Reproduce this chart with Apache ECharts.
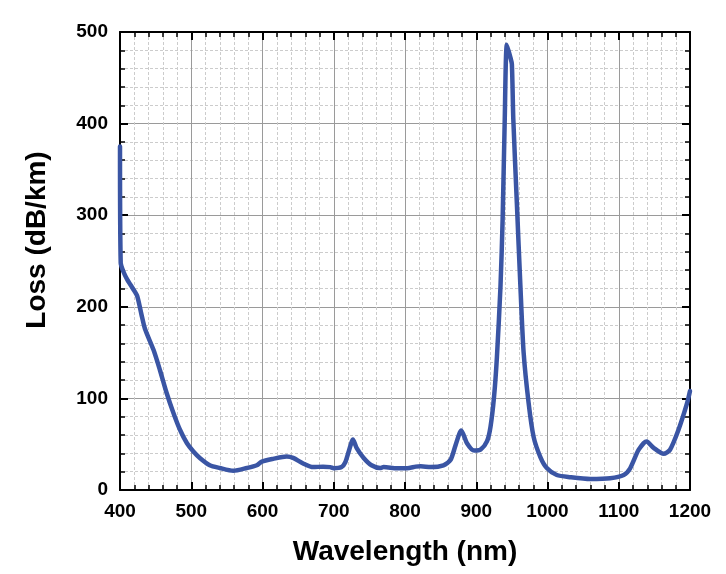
<!DOCTYPE html>
<html>
<head>
<meta charset="utf-8">
<script src="https://cdn.jsdelivr.net/npm/echarts@6/dist/echarts.min.js"></script>
<style>html,body{margin:0;padding:0;background:#fff}#c{width:726px;height:574px}</style>
</head>
<body>
<div id="c"></div>
<script>
const wavelength = [400,401,405,410,418,424,430,435,447,456,465,475,484,494,503,512,526,540,559,578,592,599,615,634,643,657,671,685,695,700,711,716,721,727,732,742,753,765,770,789,803,815,822,836,854,864,871,879,887,897,906,915,920,925,929,934,937,940,943,948,950,952,957,962,966.5,973.5,980.5,990,999,1013,1032,1060,1088,1107,1116,1128,1139,1149,1163,1172,1184,1196,1200];
const loss = [375,248,238,230,220,212,192,176,153,131,107,84,66,51,42,35,27,24,21,24,27,31,34,36.5,35,29,25,25.5,25,23.7,25,30,42,55,46,35,27,24,25,23.7,23.7,25.5,26,25,27,33,49,65,51,43,44,53,69,102,145,222,295,405,486,472,465,405,313,222,150,95,58,36,24,16.4,14,12,12.8,16.4,23.7,44,53,46,39.5,44,66,95,108];
const xTicks = [400,500,600,700,800,900,1000,1100,1200];
const yTicks = [0,100,200,300,400,500];

const data = wavelength.map((w, i) => [w, loss[i]]);
const chart = echarts.init(document.getElementById('c'), null, {renderer: 'canvas'});
const font = 'Liberation Sans, Arial, sans-serif';
const axisLine = {show: true, onZero: false, lineStyle: {color: '#000', width: 2}};
const tick = {show: true, inside: true, length: 8, lineStyle: {color: '#000', width: 2}};
const minor = {show: true, splitNumber: 5, length: 5, lineStyle: {color: '#000', width: 1.5}};
const split = {show: true, lineStyle: {color: '#9a9a9a', width: 1}};
const minorSplit = {show: true, lineStyle: {color: '#cccccc', width: 1, type: [3, 2]}};
const label = {color: '#000', fontFamily: font, fontWeight: 'bold', fontSize: 19, formatter: v => String(v)};

chart.setOption({
  animation: false,
  backgroundColor: '#fff',
  grid: {left: 120, right: 36, top: 32, bottom: 84},
  xAxis: [{
    type: 'value', min: xTicks[0], max: xTicks[xTicks.length - 1], interval: 100,
    position: 'bottom',
    axisLine: axisLine, axisTick: tick, minorTick: minor,
    splitLine: split, minorSplitLine: minorSplit,
    axisLabel: Object.assign({margin: 12}, label),
    name: 'Wavelength (nm)', nameLocation: 'middle', nameGap: 48,
    nameTextStyle: {color: '#000', fontFamily: font, fontWeight: 'bold', fontSize: 28}
  }, {
    type: 'value', min: xTicks[0], max: xTicks[xTicks.length - 1], interval: 100,
    position: 'top',
    axisLine: axisLine, axisTick: tick, minorTick: minor,
    splitLine: {show: false}, axisLabel: {show: false}
  }],
  yAxis: [{
    type: 'value', min: yTicks[0], max: yTicks[yTicks.length - 1], interval: 100,
    position: 'left',
    axisLine: axisLine, axisTick: tick, minorTick: minor,
    splitLine: split, minorSplitLine: minorSplit,
    axisLabel: Object.assign({margin: 12}, label)
  }, {
    type: 'value', min: yTicks[0], max: yTicks[yTicks.length - 1], interval: 100,
    position: 'right',
    axisLine: axisLine, axisTick: tick, minorTick: minor,
    splitLine: {show: false}, axisLabel: {show: false}
  }],
  graphic: [{
    type: 'text', x: 37, y: 240, rotation: Math.PI / 2,
    style: {text: 'Loss (dB/km)', fill: '#000', font: 'bold 28px ' + font, textAlign: 'center', textVerticalAlign: 'middle'}
  }],
  series: [{
    type: 'line', data: data, xAxisIndex: 0, yAxisIndex: 0,
    smooth: 0.25, showSymbol: false, clip: true,
    lineStyle: {color: '#3a55a4', width: 4.5, join: 'round', cap: 'round'}
  }]
});
</script>
</body>
</html>
